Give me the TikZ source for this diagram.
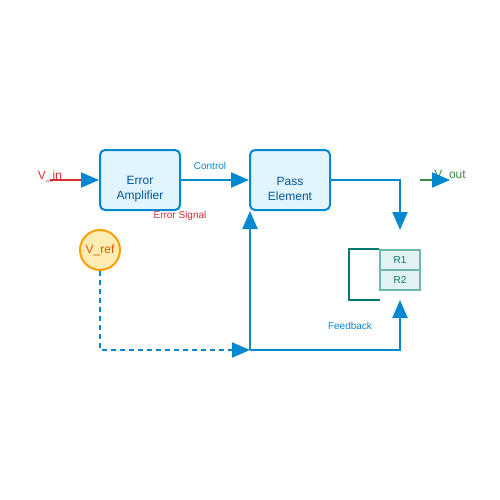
\documentclass[tikz,border=0pt]{standalone}
\usepackage{fontspec}
\setmainfont{Liberation Sans}
\usetikzlibrary{arrows.meta,positioning}
\definecolor{lineblue}{HTML}{0288D1}
\definecolor{boxfill}{HTML}{E1F5FE}
\definecolor{boxtext}{HTML}{01579B}
\definecolor{inred}{HTML}{D32F2F}
\definecolor{outgreen}{HTML}{388E3C}
\definecolor{refstroke}{HTML}{FFA000}
\definecolor{reffill}{HTML}{FFECB3}
\definecolor{reftext}{HTML}{E65100}
\definecolor{rfill}{HTML}{E0F2F1}
\definecolor{rstroke}{HTML}{6DB8AE}
\definecolor{rtext}{HTML}{00796B}

\begin{document}
\begin{tikzpicture}[x=1pt,y=-1pt,
  block/.style={draw=lineblue, line width=2pt, fill=boxfill, rounded corners=5pt,
    minimum width=80pt, minimum height=60pt, inner sep=0pt},
  blocktext/.style={text=boxtext, font=\fontsize{12}{15}\selectfont, align=center, yshift=-9pt},
  small/.style={font=\fontsize{10}{12}\selectfont},
  tip/.style={-{Triangle[length=18pt,width=15pt,color=lineblue]}},
  wire/.style={draw=lineblue, line width=2pt, tip},
  resistor/.style={draw=rstroke, line width=1.5pt, fill=rfill, minimum width=40pt,
    minimum height=20pt, inner sep=0pt, text=rtext, small}]
  \useasboundingbox (0,0) rectangle (500,500);

  % blocks
  \node[block, label={[blocktext]center:Error\\Amplifier}] (ea) at (140,180) {};
  \node[block, label={[blocktext]center:Pass\\Element}] (pe) at (290,180) {};
  \node[circle, draw=refstroke, line width=2pt, fill=reffill, minimum size=40pt, inner sep=0pt,
    text=reftext, font=\fontsize{12}{15}\selectfont] (vref) at (100,250) {V\_ref};
  \node[resistor] (r1) at (400,260) {R1};
  \node[resistor] (r2) at (400,280) {R2};

  % labels
  \node[text=inred, font=\fontsize{12}{15}\selectfont] (vin) at (50,176) {V\_in};
  \node[text=outgreen, font=\fontsize{12}{15}\selectfont] (vout) at (450,176) {V\_out};
  \node[text=lineblue, small] (ctl) at (210,166) {Control};
  \node[text=inred, small] (err) at (180,216) {Error Signal};
  \node[text=lineblue, small] (fb) at (350,326) {Feedback};

  \coordinate (vinstart) at (50,180);
  \coordinate (voutstart) at (420,180);
  \coordinate (voutend) at (450,180);
  \coordinate (rtop) at (400,230);
  \coordinate (rbot) at (400,300);
  \coordinate (fbjoin) at (250,350);

  % connectors
  \draw[inred, line width=2pt, tip] (vinstart) -- (ea.west);
  \draw[wire] (ea.east) -- (pe.west);
  \draw[wire] (pe.east) -| (rtop);
  \draw[outgreen, line width=2pt, tip] (voutstart) -- (voutend);
  \draw[rtext, line width=2pt] (r1.north west) -- ++(-30,0) |- (380,300);
  \draw[wire, dash pattern=on 5pt off 4pt] (vref.south) |- (fbjoin);
  \draw[wire] (fbjoin) -| (rbot);
  \draw[wire] (fbjoin) -- (fbjoin |- pe.south);
\end{tikzpicture}
\end{document}
